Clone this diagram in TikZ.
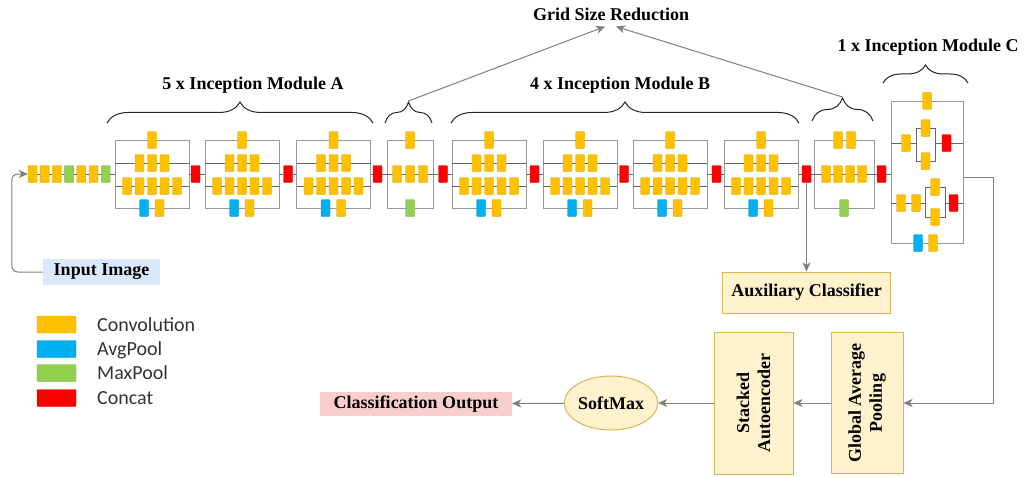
\documentclass[tikz,border=0pt]{standalone}
\usepackage{fontspec}
\setmainfont{Liberation Serif}
\newfontfamily\legfont{Carlito}
\usetikzlibrary{arrows.meta,shapes.geometric,decorations.pathreplacing}
\definecolor{conv}{HTML}{FFC000}
\definecolor{avg}{HTML}{00B0F0}
\definecolor{maxp}{HTML}{92D050}
\definecolor{cat}{HTML}{FF0000}
\definecolor{yfill}{HTML}{FFF2CC}
\definecolor{ydraw}{HTML}{D6B656}
\definecolor{inpfill}{HTML}{DAE8FC}
\definecolor{outfill}{HTML}{F8CECC}
\newcommand\lblfont{\bfseries\fontsize{18}{21}\selectfont}
\tikzset{
 blk/.style={fill=#1, draw=#1!85!black, line width=0.3pt, minimum width=9pt, minimum height=17pt, inner sep=0pt, rounded corners=0.8pt},
 modbox/.style={draw=black!40, line width=0.9pt, inner sep=0pt},
 rowln/.style={draw=black!60, line width=1pt},
 arr/.style={draw=black!50, line width=1pt, -{Stealth[length=9pt,width=8pt,inset=2.5pt]}},
 ybox/.style={fill=yfill, draw=ydraw, line width=1pt, inner sep=0pt, font=\lblfont, align=center},
 lbl/.style={font=\lblfont, inner sep=2pt},
 brc/.style={draw=black!85, line width=1pt, decorate, decoration={brace, amplitude=#1}},
 legtxt/.style={font=\legfont\fontsize{20}{24}\selectfont, text=black!80, anchor=base west, inner sep=0pt},
}
\newcommand\modAB[2]{%
 \node[modbox, minimum width=74pt, minimum height=68pt] (#1) at (#2,174) {};
 \draw[rowln] ({#2-37},163) -- ({#2+37},163);
 \draw[rowln] ({#2-37},186) -- ({#2+37},186);
 \node[blk=conv] (#1t) at (#2,140) {};
 \foreach \i/\d in {1/-12.5,2/0,3/12.5} \node[blk=conv] (#1a\i) at ({#2+\d},163) {};
 \foreach \i/\d in {1/-25,2/-12.5,3/0,4/12.5,5/25} \node[blk=conv] (#1b\i) at ({#2+\d},186) {};
 \node[blk=avg] (#1c1) at ({#2-8},208) {};
 \node[blk=conv] (#1c2) at ({#2+7.5},208) {};
}
\begin{document}
\begin{tikzpicture}[x=1pt,y=-1pt]
\fill[white] (0,0) rectangle (1024,476);
\useasboundingbox (0,0) rectangle (1024,476);

% stem
\foreach \i/\c in {1/conv,2/conv,3/conv,4/maxp,5/conv,6/conv,7/maxp}
  \node[blk=\c] (s\i) at ({32.5+12.2*(\i-1)},174) {};

% modules A
\modAB{A1}{152}
\modAB{A2}{242}
\modAB{A3}{333.5}

% grid reduction 1
\node[modbox, minimum width=46pt, minimum height=68pt] (G1) at (410,174) {};
\draw[rowln] (387,174) -- (433,174);
\node[blk=conv] (G1t) at (410,140) {};
\node[blk=conv] (G1a1) at (397,174) {};
\node[blk=conv] (G1a2) at (410,174) {};
\node[blk=conv] (G1a3) at (423,174) {};
\node[blk=maxp] (G1c) at (410,208) {};

% modules B
\modAB{B1}{489}
\modAB{B2}{580}
\modAB{B3}{670}
\modAB{B4}{761}

% grid reduction 2
\node[modbox, minimum width=60pt, minimum height=68pt] (G2) at (844,174) {};
\draw[rowln] (814,174) -- (874,174);
\node[blk=conv] (G2t1) at (838,140) {};
\node[blk=conv] (G2t2) at (851,140) {};
\node[blk=conv] (G2a1) at (826,174) {};
\node[blk=conv] (G2a2) at (838,174) {};
\node[blk=conv] (G2a3) at (850,174) {};
\node[blk=conv] (G2a4) at (862,174) {};
\node[blk=maxp] (G2c) at (844,208) {};

% module C
\node[modbox, minimum width=72pt, minimum height=142pt] (C) at (927,172) {};
\draw[rowln] (891,143) -- (916,143);
\draw[rowln] (935,143) -- (963,143);
\draw[rowln] (916,128) rectangle (935,161);
\draw[rowln] (891,203) -- (925,203);
\draw[rowln] (945,203) -- (963,203);
\draw[rowln] (925,187) rectangle (945,217);
\node[blk=conv] (Ct) at (927,101) {};
\node[blk=conv] (Cu1) at (906,143) {};
\node[blk=conv] (Cu2) at (925.5,128) {};
\node[blk=conv] (Cu3) at (925.5,161) {};
\node[blk=cat] (Cu4) at (946.5,143) {};
\node[blk=conv] (Cl1) at (901,203) {};
\node[blk=conv] (Cl2) at (916,203) {};
\node[blk=conv] (Cl3) at (935,187) {};
\node[blk=conv] (Cl4) at (935,217) {};
\node[blk=cat] (Cl5) at (953.5,203) {};
\node[blk=avg] (Cb1) at (918,243) {};
\node[blk=conv] (Cb2) at (933,243) {};

% concat blocks
\foreach \i/\x in {1/195.5,2/288,3/377.5,4/443,5/534.5,6/624,7/716.5,8/806.5,9/881.5}
  \node[blk=cat] (r\i) at (\x,174) {};

% main chain
\draw[rowln] (s1) -- (s2) -- (s3) -- (s4) -- (s5) -- (s6) -- (s7) -- (A1);
\draw[rowln] (A1) -- (r1) -- (A2) -- (r2) -- (A3) -- (r3) -- (G1) -- (r4) -- (B1) -- (r5) -- (B2) -- (r6) -- (B3) -- (r7) -- (B4) -- (r8) -- (G2) -- (r9);
\draw[rowln] (r9) -- (r9 -| C.west);

% braces and labels
\draw[brc=21pt] (107,123) -- (373,123);
\draw[brc=21pt] (385,123) -- (432,123);
\draw[brc=21pt] (451,123) -- (799,123);
\draw[brc=23pt] (812,121) -- (873,121);
\draw[brc=18pt] (883,83) -- (968,83);
\node[lbl] (labA) at (253,85) {5 x Inception Module A};
\node[lbl] (labB) at (620,85) {4 x Inception Module B};
\node[lbl] (labC) at (928,47) {1 x Inception Module C};
\node[lbl] (gsr) at (611,14) {Grid Size Reduction};
\coordinate (g1tip) at (408.5,101);
\coordinate (g2tip) at (842.5,97);
\draw[arr] (g1tip) -- ([xshift=-6pt,yshift=-4pt]gsr.south);
\draw[arr] (g2tip) -- ([xshift=5pt,yshift=-4pt]gsr.south);

% input
\node[fill=inpfill, minimum width=117pt, minimum height=26pt, inner sep=0pt, font=\lblfont] (inp) at (101.5,272) {Input Image};
\draw[arr, rounded corners=6pt] (inp.west) -| ([xshift=-16pt]s1.west) -- (s1.west);

% auxiliary
\node[ybox, minimum width=168pt, minimum height=41pt] (aux) at (806.5,292.5) {Auxiliary Classifier};
\draw[arr] (r8) -- (aux);

% classifier head
\node[ybox, rotate=90, minimum width=141pt, minimum height=72pt] (gap) at (867,403) {Global Average\\Pooling};
\node[ybox, rotate=90, minimum width=142pt, minimum height=79pt] (sa) at (753.5,403) {Stacked\\Autoencoder};
\node[ybox, ellipse, minimum width=86pt, minimum height=54pt] (sm) at (611,403) {SoftMax};
\node[fill=outfill, minimum width=192pt, minimum height=24pt, inner sep=0pt, font=\lblfont] (cls) at (416,404) {Classification Output};
\draw[arr] ([yshift=-5pt]C.east) -- ++(30,0) |- (gap.south);
\draw[arr] (gap) -- (sa);
\draw[arr] (sa) -- (sm);
\draw[arr] (sm) -- (cls);

% legend
\node[blk=conv, minimum width=39pt] (lg1) at (56.5,324.5) {};
\node[blk=avg, minimum width=39pt] (lg2) at (56.5,349) {};
\node[blk=maxp, minimum width=39pt] (lg3) at (56.5,373) {};
\node[blk=cat, minimum width=39pt] (lg4) at (56.5,398) {};
\node[legtxt] (lt1) at (97,331) {Convolution};
\node[legtxt] (lt2) at (97,355.5) {AvgPool};
\node[legtxt] (lt3) at (97,379.5) {MaxPool};
\node[legtxt] (lt4) at (97,404.5) {Concat};
\end{tikzpicture}
\end{document}
